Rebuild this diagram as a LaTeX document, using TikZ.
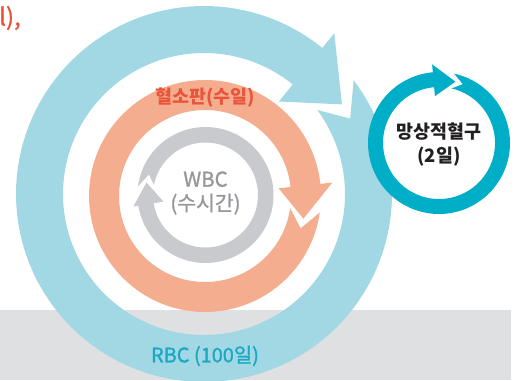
\documentclass[tikz,border=0pt]{standalone}
\usepackage{fontspec}
\newfontfamily\kr{Noto Sans CJK KR}
\newfontfamily\krm[FakeBold=1.2]{Noto Sans CJK KR}
\definecolor{bandgray}{HTML}{DFE0E2}
\definecolor{rbcblue}{HTML}{A2D8E3}
\definecolor{pltorange}{HTML}{F4AE8F}
\definecolor{wbcgray}{HTML}{C9CACD}
\definecolor{retteal}{HTML}{00AEC7}
\definecolor{txtorange}{HTML}{E9543A}
\definecolor{txtgray}{HTML}{95979B}
\definecolor{txtteal}{HTML}{1AA8C4}
\definecolor{txtblack}{HTML}{231F20}
% #1 colour, #2 centre, #3 inner r, #4 outer r, #5 tip angle, #6 head length,
% #7 outer barb, #8 inner barb, #9 tail shift (all angles clockwise on screen)
\newcommand\ringarrow[9]{%
  \pgfmathsetmacro\raM{(#3+#4)/2}%
  \pgfmathsetmacro\raW{(#4-#3)/2}%
  \pgfmathsetmacro\raB{#5-#6}%
  \pgfmathsetmacro\raAo{#5-#6*\raW/(\raW+#7)+#9-360}%
  \pgfmathsetmacro\raAi{#5-#6*\raW/(\raW+#8)+#9-360}%
  \pgfmathsetmacro\raN{#5+#9-360}%
  \pgfmathsetmacro\raBo{#4+#7}%
  \pgfmathsetmacro\raBi{#3-#8}%
  \fill[#1, shift={#2}] plot[domain=\raAo:\raB, samples=160] (\x:#4)
    -- (\raB:\raBo) -- (#5:\raM) -- (\raB:\raBi)
    -- plot[domain=\raB:\raAi, samples=160] (\x:#3)
    -- (\raN:\raM) -- cycle;%
}
\tikzset{
  lbl/.style={inner sep=0pt, align=center}
}
\begin{document}
\begin{tikzpicture}[x=1bp,y=-1bp]
\useasboundingbox (0,0) rectangle (522,380);
% grey band
\fill[bandgray] (0,310) rectangle (511,380);
% RBC ring
\ringarrow{rbcblue}{(204,194)}{141}{188}{327}{18}{19}{22}{5.7}
% platelet ring
\ringarrow{pltorange}{(205,196)}{86}{116}{13}{19}{12}{12}{5.7}
\node[lbl, font=\kr\bfseries\fontsize{18.5}{22}\selectfont, text=txtorange] (plt) at (205,97.5) {혈소판(수일)};
% WBC ring
\ringarrow{wbcgray}{(205.5,195)}{52.5}{68}{192}{21}{5}{10}{8}
\node[lbl, font=\krm\fontsize{20.5}{24}\selectfont, text=txtgray] (wbc) at (205.5,193) {WBC\\(수시간)};
% reticulocyte ring
\fill[white] (439,143) circle[radius=56];
\ringarrow{retteal}{(439,143)}{56}{71}{-75}{20}{8}{9}{7}
\node[lbl, font=\kr\bfseries\fontsize{18.5}{25}\selectfont, text=txtblack] (ret) at (439,144.5) {망상적혈구\\(2일)};
% labels
\node[lbl, font=\krm\fontsize{20}{22}\selectfont, text=txtteal] (rbc) at (205,356) {RBC (100일)};
\node[lbl, font=\krm\fontsize{24}{28}\selectfont, text=txtorange, anchor=west] (top) at (-1,18) {l),};
\end{tikzpicture}
\end{document}
